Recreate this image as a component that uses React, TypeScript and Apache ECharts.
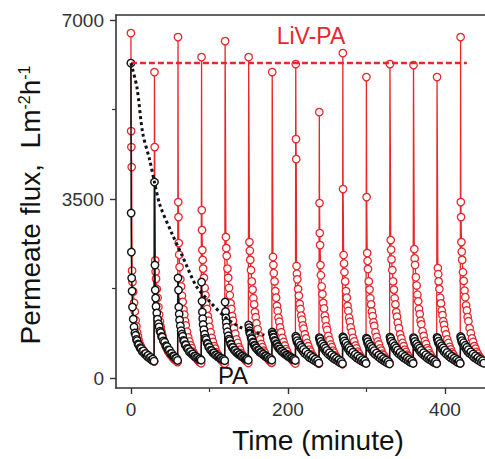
import React, { useEffect, useRef } from "react";
import * as echarts from "echarts";

// ---------- data ----------
const cycleStarts = [0, 30, 60, 90, 120, 150, 180, 210, 240, 270, 300, 330, 360, 390, 420];
const cycleOffsets = [0, 0.3, 0.6, 1, 1.5, 2, 3, 4, 5, 6, 7, 8, 9, 10, 11.5, 13, 14.5, 16, 17.5, 19, 20.5, 22, 23.5, 25, 26.5, 28, 29.5];

const livPaCycles: (number | null)[][] = [
  [6745, 4829, 4516, 4125, 2100, 1880, 1690, 1470, 1300, 1130, 1010, 890, 810, 735, 660, 610, 560, 525, 490, 465, 440, 420, 395, 380, 360, 340, 325],
  [5982, 4516, null, 2300, 2080, 1940, 1740, 1570, 1390, 1240, 1100, 1000, 905, 830, 745, 675, 615, 565, 520, 485, 450, 425, 395, 370, 350, 330, 310],
  [6667, 3441, 3148, 2639, 2410, 2170, 1930, 1790, 1610, 1490, 1340, 1240, 1110, 1030, 905, 795, 715, 640, 585, 515, 475, 425, 395, 355, 335, 305, 290],
  [6276, 3284, 2893, 2502, 2310, 2140, 1960, 1760, 1620, 1460, 1350, 1210, 1120, 1000, 895, 785, 705, 625, 575, 505, 465, 415, 390, 350, 335, 300, 285],
  [6588, null, null, 2757, 2540, 2390, 2140, 1960, 1760, 1620, 1460, 1350, 1210, 1120, 975, 865, 755, 685, 605, 555, 490, 455, 405, 380, 340, 325, 295],
  [6276, null, null, 2659, 2490, 2310, 2110, 1890, 1730, 1560, 1440, 1290, 1190, 1070, 955, 835, 755, 665, 605, 535, 495, 440, 410, 365, 345, 310, 300],
  [5982, null, null, 2366, 2210, 2050, 1890, 1700, 1570, 1410, 1310, 1180, 1100, 990, 895, 785, 705, 635, 565, 520, 460, 430, 385, 365, 330, 315, 285],
  [6139, 4672, 4281, 2190, 2040, 1930, 1740, 1610, 1450, 1350, 1220, 1140, 1030, 965, 855, 775, 685, 625, 555, 515, 460, 430, 385, 365, 325, 310, 280],
  [5200, 3421, 2835, 2600, 2209, 2010, 1790, 1640, 1470, 1360, 1220, 1130, 1010, 940, 825, 745, 655, 605, 535, 495, 440, 410, 365, 345, 310, 300, 270],
  [6354, 3695, null, 2405, 2240, 2070, 1890, 1700, 1570, 1410, 1310, 1180, 1100, 990, 895, 785, 715, 635, 580, 515, 475, 425, 400, 360, 345, 310, 300],
  [5885, 3539, null, 2444, 2290, 2130, 1890, 1730, 1560, 1440, 1300, 1210, 1090, 1020, 895, 805, 715, 655, 580, 535, 475, 445, 400, 380, 340, 325, 295],
  [6139, null, null, 2698, 2510, 2320, 2110, 1890, 1730, 1560, 1440, 1290, 1200, 1080, 975, 855, 775, 685, 625, 555, 510, 455, 425, 380, 360, 325, 310],
  [6119, null, null, 2522, 2340, 2210, 1970, 1810, 1630, 1500, 1350, 1250, 1120, 1050, 915, 825, 725, 665, 585, 540, 480, 445, 400, 375, 340, 325, 295],
  [5885, null, null, 2150, 2030, 1890, 1740, 1570, 1460, 1320, 1230, 1110, 1040, 940, 855, 755, 685, 610, 560, 500, 465, 415, 390, 350, 335, 300, 290],
  [6667, 3441, 3148, 2659, 2470, 2310, 2070, 1900, 1710, 1580, 1420, 1320, 1190, 1110, 975, 875, 775, 705, 625, 575, 510, 475, 425, 400, 360, 345, 310],
];

const paCycles: (number | null)[][] = [
  [6158, 3226, 2463, 1955, 1700, 1388, 1150, 997, 880, 835, 755, 730, 665, 650, 590, 575, 520, 530, 470, 480, 425, 445, 390, 405, 355, 370, 330],
  [3832, null, 2209, 1720, 1564, 1400, 1271, 1150, 1060, 1000, 915, 890, 810, 800, 725, 700, 630, 615, 550, 545, 480, 480, 430, 425, 385, 385, 345],
  [1955, null, 1720, 1388, 1250, 1134, 1020, 925, 860, 815, 735, 720, 650, 645, 580, 565, 510, 515, 465, 470, 425, 430, 395, 400, 365, 375, 350],
  [1877, null, 1500, 1290, 1160, 1045, 945, 855, 780, 750, 680, 665, 605, 600, 545, 535, 490, 490, 450, 450, 415, 420, 385, 390, 360, 365, 340],
  [1486, null, 1300, 1175, 1085, 995, 905, 825, 760, 730, 665, 655, 600, 595, 545, 540, 495, 495, 455, 460, 425, 430, 395, 400, 370, 375, 350],
  [1036, null, 985, 925, 880, 860, 790, 765, 705, 690, 640, 635, 590, 585, 545, 540, 500, 500, 465, 465, 430, 435, 400, 405, 370, 380, 350],
  [899, null, 860, 845, 800, 790, 735, 720, 670, 660, 615, 610, 570, 565, 525, 520, 485, 485, 450, 450, 420, 420, 390, 395, 365, 370, 345],
  [815, null, 770, 785, 710, 730, 665, 690, 610, 640, 575, 600, 525, 560, 480, 515, 445, 470, 400, 440, 375, 405, 345, 370, 315, 340, 290],
  [790, null, 745, 770, 690, 715, 640, 670, 590, 625, 550, 585, 505, 540, 465, 495, 430, 455, 390, 420, 360, 385, 330, 355, 300, 325, 280],
  [805, null, 760, 780, 705, 725, 655, 685, 600, 635, 565, 595, 515, 550, 475, 505, 440, 465, 395, 430, 365, 395, 335, 360, 310, 335, 285],
  [780, null, 740, 760, 680, 710, 630, 665, 585, 620, 545, 580, 500, 535, 460, 490, 425, 450, 385, 415, 355, 380, 325, 350, 295, 320, 275],
  [800, null, 755, 775, 700, 720, 650, 680, 600, 630, 560, 590, 510, 545, 470, 500, 435, 460, 395, 425, 365, 390, 335, 360, 305, 330, 285],
  [790, null, 745, 770, 690, 715, 645, 670, 595, 625, 555, 585, 505, 540, 465, 495, 430, 455, 390, 420, 360, 385, 330, 355, 300, 325, 280],
  [795, null, 750, 775, 695, 720, 650, 675, 600, 630, 560, 590, 510, 545, 470, 500, 435, 460, 395, 425, 365, 390, 335, 360, 305, 330, 285],
  [810, null, 765, 785, 705, 730, 660, 690, 610, 640, 570, 600, 520, 555, 480, 510, 445, 470, 400, 435, 370, 400, 340, 365, 310, 340, 290],
];

const paTrendTime = [0, 7.6, 15, 24, 30, 37, 52, 65, 84, 101, 120, 139, 156, 170];
const paTrendFlux = [6160, 5690, 4790, 4262, 3832, 3382, 2835, 2405, 1779, 1486, 1193, 997, 899, 840];

const livPaRefTime = [0, 428];
const livPaRefFlux = [6160, 6160];

const xTickValues = [0, 200, 400];
const xMinorTickValues = [100, 300];
const yTickValues = [0, 3500, 7000];
const yMinorTickValues = [1750, 5250];

// ---------- helpers ----------
const RED = "#e8262b";
const BLACK = "#111111";
const AXIS = "#333333";
const FONT = "'Liberation Sans', Arial, Helvetica, sans-serif";

function buildSeries(cycles: (number | null)[][]): number[][] {
  const out: number[][] = [];
  cycles.forEach((vals, i) => {
    vals.forEach((v, j) => {
      if (v !== null && v !== undefined) out.push([cycleStarts[i] + cycleOffsets[j], v]);
    });
  });
  return out;
}

function pairs(xs: number[], ys: number[]): number[][] {
  return xs.map((x, i) => [x, ys[i]]);
}

const X_MIN = -19;
const X_MAX = 460;
const Y_MIN = -195;
const Y_MAX = 7100;

export default function App() {
  const ref = useRef<HTMLDivElement>(null);

  useEffect(() => {
    if (!ref.current) return;
    const chart = echarts.init(ref.current, null, { renderer: "svg" });

    const baseX = {
      type: "value" as const,
      min: X_MIN,
      max: X_MAX,
      gridIndex: 0,
      splitLine: { show: false },
    };
    const baseY = {
      type: "value" as const,
      min: Y_MIN,
      max: Y_MAX,
      gridIndex: 0,
      splitLine: { show: false },
    };
    const plain = (v: number) => String(v);

    chart.setOption({
      animation: false,
      backgroundColor: "#ffffff",
      grid: { left: 116, top: 15, width: 376, height: 373, outerBoundsMode: "none", containLabel: false },
      xAxis: [
        {
          ...baseX,
          position: "bottom",
          axisLine: { show: true, onZero: false, lineStyle: { color: AXIS, width: 1.6 } },
          axisTick: { show: true, inside: false, length: 6, customValues: xTickValues, lineStyle: { color: AXIS, width: 1.4 } },
          axisLabel: { show: true, customValues: xTickValues, formatter: plain, fontSize: 19, color: "#333", margin: 12, fontFamily: FONT },
        },
        {
          ...baseX,
          position: "bottom",
          axisLine: { show: false, onZero: false },
          axisTick: { show: true, inside: false, length: 4, customValues: xMinorTickValues, lineStyle: { color: AXIS, width: 1.2 } },
          axisLabel: { show: false },
        },
        {
          ...baseX,
          position: "top",
          axisLine: { show: true, onZero: false, lineStyle: { color: AXIS, width: 1.6 } },
          axisTick: { show: false },
          axisLabel: { show: false },
        },
      ],
      yAxis: [
        {
          ...baseY,
          position: "left",
          axisLine: { show: true, onZero: false, lineStyle: { color: AXIS, width: 1.6 } },
          axisTick: { show: true, inside: false, length: 6, customValues: yTickValues, lineStyle: { color: AXIS, width: 1.4 } },
          axisLabel: { show: true, customValues: yTickValues, formatter: plain, fontSize: 19, color: "#333", margin: 12, fontFamily: FONT },
        },
        {
          ...baseY,
          position: "left",
          axisLine: { show: false, onZero: false },
          axisTick: { show: true, inside: false, length: 4, customValues: yMinorTickValues, lineStyle: { color: AXIS, width: 1.2 } },
          axisLabel: { show: false },
        },
      ],
      series: [
        {
          name: "LiV-PA",
          type: "line",
          xAxisIndex: 0,
          yAxisIndex: 0,
          data: buildSeries(livPaCycles),
          symbol: "circle",
          symbolSize: 7.5,
          showAllSymbol: true,
          silent: true,
          lineStyle: { color: RED, width: 1.3 },
          itemStyle: { color: "#ffffff", borderColor: RED, borderWidth: 1.3 },
          emphasis: { disabled: true },
          z: 2,
        },
        {
          name: "PA",
          type: "line",
          xAxisIndex: 0,
          yAxisIndex: 0,
          data: buildSeries(paCycles),
          symbol: "circle",
          symbolSize: 7.5,
          showAllSymbol: true,
          silent: true,
          lineStyle: { color: BLACK, width: 1.5 },
          itemStyle: { color: "#ffffff", borderColor: BLACK, borderWidth: 1.4 },
          emphasis: { disabled: true },
          z: 3,
        },
        {
          name: "LiV-PA reference",
          type: "line",
          xAxisIndex: 0,
          yAxisIndex: 0,
          data: pairs(livPaRefTime, livPaRefFlux),
          symbol: "none",
          silent: true,
          lineStyle: { color: RED, width: 2.6, type: [6, 3] },
          emphasis: { disabled: true },
          z: 4,
        },
        {
          name: "PA trend",
          type: "line",
          xAxisIndex: 0,
          yAxisIndex: 0,
          data: pairs(paTrendTime, paTrendFlux),
          symbol: "none",
          smooth: 0.3,
          silent: true,
          lineStyle: { color: BLACK, width: 3, type: [3, 3] },
          emphasis: { disabled: true },
          z: 5,
        },
      ],
      graphic: [
        {
          type: "text",
          x: 311,
          y: 36,
          z: 10,
          style: { text: "LiV-PA", fill: RED, font: `23px ${FONT}`, align: "center", verticalAlign: "middle" },
        },
        {
          type: "text",
          x: 233,
          y: 375,
          z: 10,
          style: { text: "PA", fill: BLACK, font: `24px ${FONT}`, align: "center", verticalAlign: "middle" },
        },
        {
          type: "text",
          x: 318,
          y: 440,
          z: 10,
          style: { text: "Time (minute)", fill: BLACK, font: `28px ${FONT}`, align: "center", verticalAlign: "middle" },
        },
        {
          type: "text",
          x: 30,
          y: 205,
          rotation: Math.PI / 2,
          z: 10,
          style: {
            text: "Permeate flux,  Lm{sup|-2}h{sup|-1}",
            fill: BLACK,
            font: `28px ${FONT}`,
            align: "center",
            verticalAlign: "middle",
            rich: {
              sup: { fontSize: 16, fontFamily: FONT, fill: BLACK, verticalAlign: "top" },
            },
          },
        },
      ],
    });

    return () => chart.dispose();
  }, []);

  return (
    <div style={{ position: "fixed", left: 0, top: 0, width: 485, height: 459, overflow: "hidden", background: "#fff" }}>
      <div ref={ref} style={{ width: 500, height: 459 }} />
    </div>
  );
}
